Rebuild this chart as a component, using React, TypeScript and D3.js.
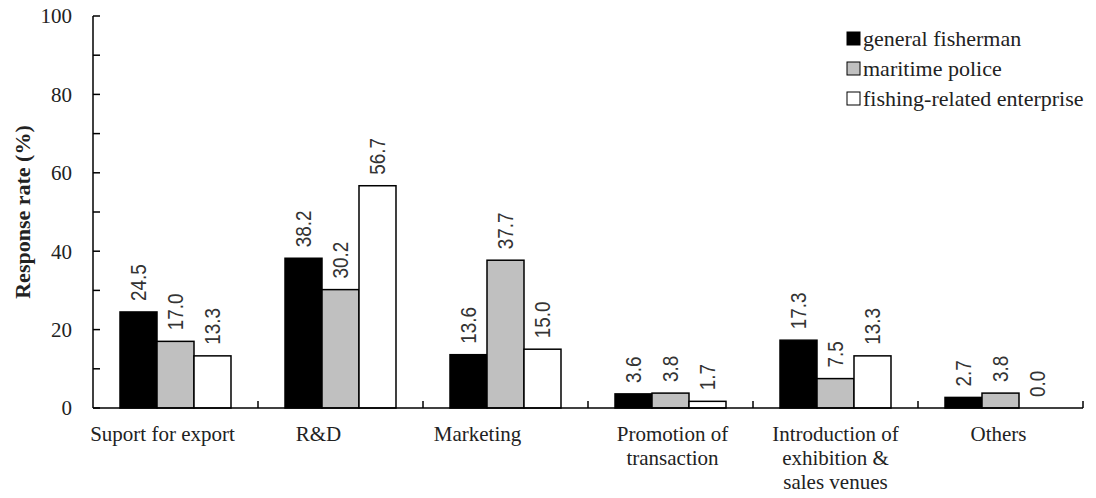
import React from "react";
import * as d3 from "d3";

const categories = [
  "Suport for export",
  "R&D",
  "Marketing",
  "Promotion of\ntransaction",
  "Introduction of\nexhibition &\nsales venues",
  "Others",
];
const seriesNames = ["general fisherman", "maritime police", "fishing-related enterprise"];
const generalFisherman = [24.5, 38.2, 13.6, 3.6, 17.3, 2.7];
const maritimePolice = [17.0, 30.2, 37.7, 3.8, 7.5, 3.8];
const fishingEnterprise = [13.3, 56.7, 15.0, 1.7, 13.3, 0.0];
const yTicks = [0, 20, 40, 60, 80, 100];
const yMinorTicks = [10, 30, 50, 70, 90];

const W = 1096;
const H = 498;
const X0 = 93;
const X1 = 1083;
const Y0 = 408;
const Y1 = 16;
const fills = ["#000000", "#c0c0c0", "#ffffff"];
const labelDx = [-13, -22, -28, 2, 0, -2];
const serif = "'Liberation Serif', 'Times New Roman', 'DejaVu Serif', serif";
const sans = "'Liberation Sans', Arial, sans-serif";

export default function App() {
  const series = [generalFisherman, maritimePolice, fishingEnterprise];
  const x = d3.scaleBand<string>().domain(categories).range([X0, X1]).padding(0);
  const inner = d3
    .scaleBand<number>()
    .domain([0, 1, 2])
    .range([0, x.bandwidth()])
    .paddingInner(0)
    .paddingOuter(0.73);
  const y = d3.scaleLinear().domain([0, 100]).range([Y0, Y1]);

  return (
    <svg
      width={W}
      height={H}
      style={{ position: "absolute", left: 0, top: 0, background: "#fff" }}
    >
      <rect x={0} y={0} width={W} height={H} fill="#fff" />
      {/* bars */}
      {categories.map((c, ci) =>
        series.map((s, si) => {
          const bx = (x(c) as number) + (inner(si) as number);
          const by = y(s[ci]);
          return (
            <rect
              key={`${ci}-${si}`}
              x={bx}
              y={by}
              width={inner.bandwidth()}
              height={Y0 - by}
              fill={fills[si]}
              stroke="#000"
              strokeWidth={1.5}
            />
          );
        })
      )}
      {/* value labels */}
      {categories.map((c, ci) =>
        series.map((s, si) => {
          const cx = (x(c) as number) + (inner(si) as number) + inner.bandwidth() / 2;
          const ty = y(s[ci]) - 11;
          return (
            <text
              key={`l${ci}-${si}`}
              transform={`translate(${cx},${ty}) rotate(-90) scale(0.86,1)`}
              dy="0.36em"
              textAnchor="start"
              fontFamily={sans}
              fontSize={22}
              fill="#333"
            >
              {s[ci].toFixed(1)}
            </text>
          );
        })
      )}
      {/* y axis */}
      <line x1={X0} x2={X0} y1={Y1} y2={Y0} stroke="#000" strokeWidth={1.5} />
      {yTicks.map((t) => (
        <g key={`yt${t}`}>
          <line x1={X0} x2={X0 + 7} y1={y(t)} y2={y(t)} stroke="#000" strokeWidth={1.5} />
          <text
            x={X0 - 21}
            y={y(t)}
            dy="0.35em"
            textAnchor="end"
            fontFamily={serif}
            fontSize={21}
            fill="#222"
          >
            {t}
          </text>
        </g>
      ))}
      {yMinorTicks.map((t) => (
        <line key={`ym${t}`} x1={X0} x2={X0 + 7} y1={y(t)} y2={y(t)} stroke="#000" strokeWidth={1.5} />
      ))}
      <text
        transform={`translate(22,212) rotate(-90)`}
        dy="0.35em"
        textAnchor="middle"
        fontFamily={serif}
        fontWeight="bold"
        fontSize={22}
        fill="#222"
      >
        Response rate (%)
      </text>
      {/* x axis */}
      <line x1={X0} x2={X1} y1={Y0} y2={Y0} stroke="#000" strokeWidth={1.5} />
      {categories.map((c) => (
        <line
          key={`xt${c}`}
          x1={(x(c) as number) + x.bandwidth()}
          x2={(x(c) as number) + x.bandwidth()}
          y1={Y0}
          y2={Y0 - 7}
          stroke="#000"
          strokeWidth={1.5}
        />
      ))}
      {categories.map((c, ci) => (
        <text
          key={`xl${c}`}
          x={(x(c) as number) + x.bandwidth() / 2 + labelDx[ci]}
          y={441}
          textAnchor="middle"
          fontFamily={serif}
          fontSize={21}
          fill="#222"
        >
          {c.split("\n").map((line, li) => (
            <tspan key={li} x={(x(c) as number) + x.bandwidth() / 2 + labelDx[ci]} dy={li === 0 ? 0 : 24}>
              {line}
            </tspan>
          ))}
        </text>
      ))}
      {/* legend */}
      {seriesNames.map((n, i) => (
        <g key={n} transform={`translate(847,${32 + i * 30})`}>
          <rect x={0} y={0} width={13} height={13} fill={fills[i]} stroke="#000" strokeWidth={1} />
          <text x={16} y={6.5} dy="0.35em" fontFamily={serif} fontSize={22} fill="#222">
            {n}
          </text>
        </g>
      ))}
    </svg>
  );
}
